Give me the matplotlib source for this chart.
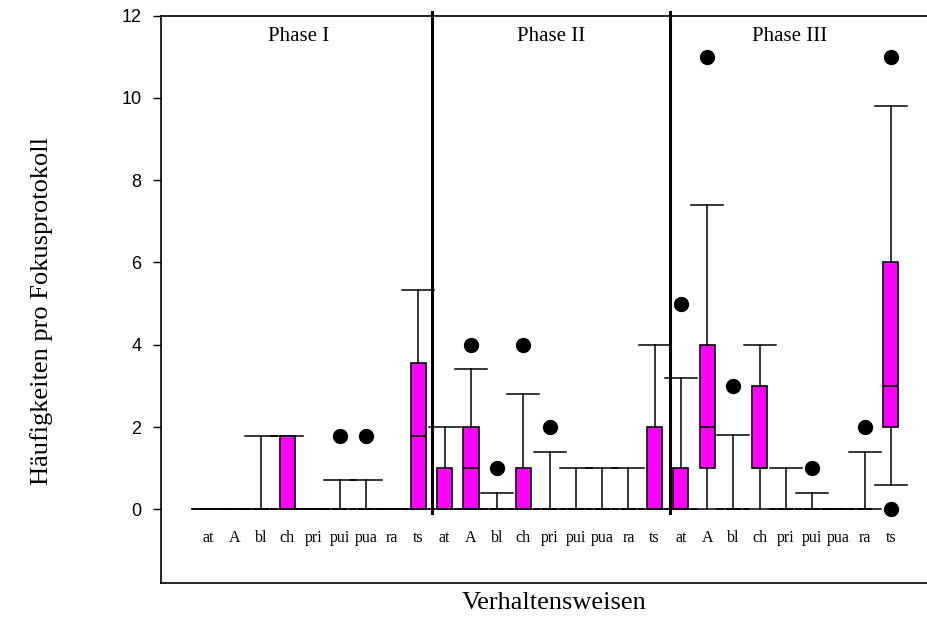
import matplotlib
matplotlib.use("Agg")
import matplotlib.pyplot as plt

# categories per phase
cats = ['at', 'A', 'bl', 'ch', 'pri', 'pui', 'pua', 'ra', 'ts']
phases = ['Phase I', 'Phase II', 'Phase III']

# box statistics, 27 entries (Phase I, II, III)
q1 = [0, 0, 0, 0, 0, 0, 0, 0, 0,
      0, 0, 0, 0, 0, 0, 0, 0, 0,
      0, 1, 0, 1, 0, 0, 0, 0, 2]
med = [0, 0, 0, 0, 0, 0, 0, 0, 1.78,
       0, 1, 0, 0, 0, 0, 0, 0, 0,
       0, 2, 0, 1, 0, 0, 0, 0, 3]
q3 = [0, 0, 0, 1.78, 0, 0, 0, 0, 3.56,
      1, 2, 0, 1, 0, 0, 0, 0, 2,
      1, 4, 0, 3, 0, 0, 0, 0, 6]
whislo = [0, 0, 0, 0, 0, 0, 0, 0, 0,
          0, 0, 0, 0, 0, 0, 0, 0, 0,
          0, 0, 0, 0, 0, 0, 0, 0, 0.6]
whishi = [0, 0, 1.78, 1.78, 0, 0.71, 0.71, 0, 5.33,
          2, 3.4, 0.4, 2.8, 1.4, 1, 1, 1, 4,
          3.2, 7.4, 1.8, 4, 1, 0.4, 0, 1.4, 9.8]
fliers = [[], [], [], [], [], [1.78], [1.78], [], [],
          [], [4], [1], [4], [2], [], [], [], [],
          [5], [11], [3], [], [], [1], [], [2], [11, 0]]

stats = []
for i in range(len(q1)):
    stats.append({'q1': q1[i], 'med': med[i], 'q3': q3[i],
                  'whislo': whislo[i], 'whishi': whishi[i],
                  'fliers': fliers[i]})

positions = list(range(1, len(stats) + 1))

plt.rcParams['font.family'] = 'Liberation Serif'

fig = plt.figure(figsize=(9.28, 6.41), dpi=100)
ax = fig.add_axes([160.7 / 928, 1 - 583.3 / 641, (931 - 160.7) / 928, (583.3 - 15.7) / 641])

ax.bxp(stats, positions=positions, widths=0.58, capwidths=1.22,
       patch_artist=True, showfliers=True,
       boxprops=dict(facecolor='#ff00ff', edgecolor='black', linewidth=1.2),
       medianprops=dict(color='black', linewidth=1.2),
       whiskerprops=dict(color='black', linewidth=1.1),
       capprops=dict(color='black', linewidth=1.1),
       flierprops=dict(marker='o', markerfacecolor='black', markeredgecolor='black',
                       markersize=10))

ax.set_xlim(-0.82, 28.53)
ax.set_ylim(-1.8, 12)
ax.set_xticks([])
ax.set_yticks(range(0, 13, 2))
ax.tick_params(axis='y', direction='out', length=6, width=1, pad=8, labelsize=13)
for lbl in ax.get_yticklabels():
    lbl.set_fontfamily('Liberation Sans')
ax.spines['right'].set_visible(False)
for s in ['left', 'top', 'bottom']:
    ax.spines[s].set_linewidth(1.2)

# phase separators
for xd in [9.53, 18.58]:
    ax.plot([xd, xd], [-0.1, 12.1], color='black', linewidth=2.2, clip_on=False)

# phase titles
for xt, name in zip([4.45, 14.05, 23.15], phases):
    ax.text(xt, 11.5, name, ha='center', va='center', fontsize=15)

# category labels
for i, p in enumerate(positions):
    ax.text(p, -0.79, cats[i % len(cats)], ha='center', va='baseline', fontsize=11.5)

fig.text(42 / 928, 1 - 311 / 641, 'Häufigkeiten pro Fokusprotokoll', rotation=90,
         ha='center', va='center', fontsize=19)
fig.text(554 / 928, 1 - 603 / 641, 'Verhaltensweisen', ha='center', va='center',
         fontsize=19)

fig.savefig('out.png', dpi=100)
